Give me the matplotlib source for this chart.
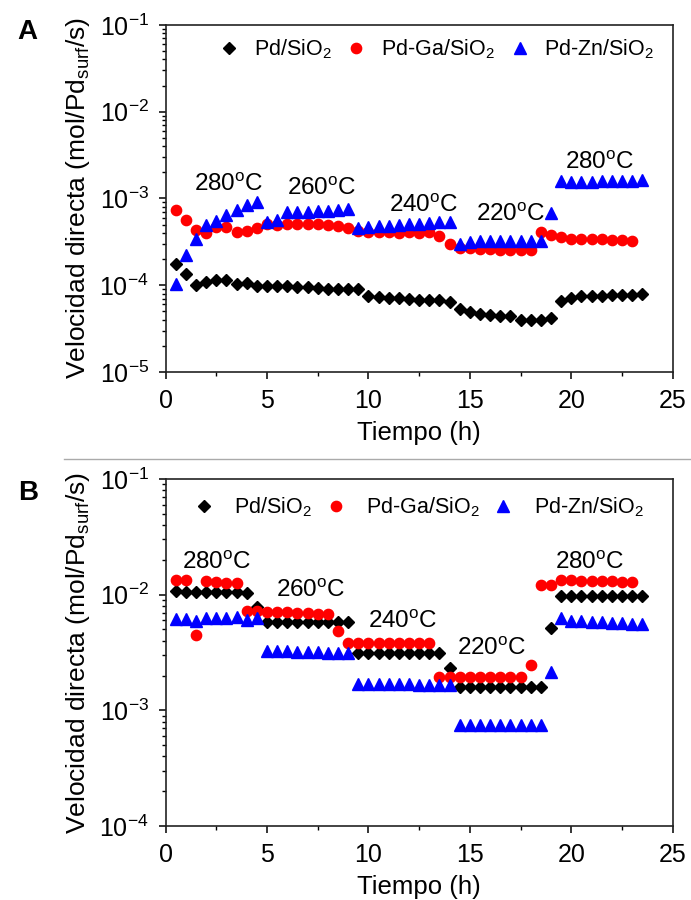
import matplotlib
matplotlib.use("Agg")
import matplotlib.pyplot as plt
from matplotlib.lines import Line2D
from matplotlib.ticker import LogLocator, MultipleLocator, NullFormatter

plt.rcParams['font.family'] = ['Liberation Sans', 'DejaVu Sans']
plt.rcParams['mathtext.fontset'] = 'custom'
plt.rcParams['mathtext.rm'] = 'Liberation Sans'
plt.rcParams['mathtext.it'] = 'Liberation Sans:italic'
plt.rcParams['mathtext.bf'] = 'Liberation Sans:bold'
plt.rcParams['mathtext.default'] = 'regular'
plt.rcParams['axes.unicode_minus'] = False

# ---- Panel A data (time in h, rate in mol/Pd_surf/s) ----
t_a_pd = [0.5 + 0.5 * i for i in range(47)]
v_a_pd = [1.74e-4, 1.36e-4, 1.0e-4, 1.09e-4, 1.14e-4, 1.14e-4, 1.02e-4, 1.07e-4,
          9.8e-5, 9.8e-5, 9.8e-5, 9.8e-5, 9.5e-5, 9.5e-5, 9.3e-5, 9.1e-5, 9.1e-5,
          9.1e-5, 9.1e-5,
          7.6e-5, 7.3e-5, 7.1e-5, 7.1e-5, 7.0e-5, 6.7e-5, 6.7e-5, 6.7e-5, 6.4e-5,
          5.3e-5, 4.95e-5, 4.67e-5, 4.54e-5, 4.46e-5, 4.46e-5, 4.0e-5, 4.0e-5,
          4.0e-5, 4.15e-5,
          6.5e-5, 7.1e-5, 7.5e-5, 7.5e-5, 7.5e-5, 7.76e-5, 7.76e-5, 7.76e-5, 7.97e-5]

t_a_ga = [0.5 + 0.5 * i for i in range(46)]
v_a_ga = [7.37e-4, 5.59e-4, 4.38e-4, 4.01e-4, 4.67e-4, 4.67e-4, 4.12e-4, 4.27e-4,
          4.51e-4, 5.11e-4, 4.93e-4, 5.01e-4, 5.11e-4, 5.11e-4, 5.01e-4, 4.93e-4,
          4.80e-4, 4.51e-4, 4.20e-4, 4.12e-4, 4.12e-4, 4.12e-4, 4.01e-4, 4.12e-4,
          4.01e-4, 4.12e-4, 3.66e-4, 2.98e-4, 2.72e-4, 2.72e-4, 2.63e-4, 2.63e-4,
          2.56e-4, 2.56e-4, 2.56e-4, 2.56e-4, 4.12e-4, 3.77e-4, 3.57e-4, 3.44e-4,
          3.44e-4, 3.44e-4, 3.44e-4, 3.35e-4, 3.35e-4, 3.26e-4]

t_a_zn = [0.5 + 0.5 * i for i in range(47)]
v_a_zn = [1.02e-4, 2.24e-4, 3.44e-4, 4.93e-4, 5.49e-4, 6.45e-4, 7.31e-4, 8.43e-4,
          9.0e-4, 5.39e-4, 5.64e-4, 7.06e-4, 7.06e-4, 7.06e-4, 7.18e-4, 7.18e-4,
          7.31e-4, 7.51e-4,
          4.51e-4, 4.67e-4, 4.80e-4, 4.80e-4, 4.89e-4, 5.01e-4, 5.11e-4, 5.25e-4,
          5.35e-4, 5.39e-4,
          2.98e-4, 3.14e-4, 3.21e-4, 3.21e-4, 3.21e-4, 3.21e-4, 3.21e-4, 3.21e-4,
          3.26e-4, 6.87e-4,
          1.58e-3, 1.54e-3, 1.54e-3, 1.54e-3, 1.58e-3, 1.58e-3, 1.61e-3, 1.61e-3, 1.64e-3]

# ---- Panel B data ----
t_b_pd = [0.5 + 0.5 * i for i in range(47)]
v_b_pd = [1.08e-2, 1.06e-2, 1.05e-2, 1.05e-2, 1.05e-2, 1.05e-2, 1.05e-2, 1.03e-2,
          7.84e-3,
          5.79e-3, 5.79e-3, 5.79e-3, 5.79e-3, 5.79e-3, 5.79e-3, 5.79e-3, 5.79e-3, 5.79e-3,
          3.16e-3, 3.16e-3, 3.16e-3, 3.16e-3, 3.16e-3, 3.16e-3, 3.16e-3, 3.16e-3, 3.16e-3,
          2.34e-3,
          1.58e-3, 1.58e-3, 1.58e-3, 1.58e-3, 1.58e-3, 1.58e-3, 1.58e-3, 1.58e-3, 1.58e-3,
          5.13e-3,
          9.8e-3, 9.8e-3, 9.8e-3, 9.8e-3, 9.8e-3, 9.8e-3, 9.8e-3, 9.8e-3, 9.8e-3]

t_b_ga = [0.5 + 0.5 * i for i in range(46)]
v_b_ga = [1.34e-2, 1.34e-2, 4.49e-3, 1.30e-2, 1.28e-2, 1.26e-2, 1.26e-2,
          7.18e-3, 7.18e-3, 7.10e-3, 7.10e-3, 7.10e-3, 6.98e-3, 6.98e-3, 6.86e-3, 6.86e-3,
          4.81e-3,
          3.79e-3, 3.79e-3, 3.79e-3, 3.79e-3, 3.79e-3, 3.79e-3, 3.79e-3, 3.79e-3, 3.79e-3,
          1.96e-3, 1.96e-3, 1.96e-3, 1.96e-3, 1.96e-3, 1.96e-3, 1.96e-3, 1.96e-3, 1.96e-3,
          2.45e-3, 1.21e-2, 1.21e-2,
          1.34e-2, 1.34e-2, 1.32e-2, 1.32e-2, 1.30e-2, 1.30e-2, 1.28e-2, 1.28e-2]

t_b_zn = [0.5 + 0.5 * i for i in range(47)]
v_b_zn = [6.2e-3, 6.2e-3, 5.87e-3, 6.28e-3, 6.28e-3, 6.28e-3, 6.41e-3, 6.0e-3, 6.28e-3,
          3.27e-3, 3.27e-3, 3.27e-3, 3.22e-3, 3.22e-3, 3.22e-3, 3.16e-3, 3.16e-3, 3.16e-3,
          1.69e-3, 1.69e-3, 1.69e-3, 1.69e-3, 1.69e-3, 1.69e-3, 1.67e-3, 1.67e-3, 1.65e-3,
          1.65e-3,
          7.54e-4, 7.54e-4, 7.54e-4, 7.54e-4, 7.54e-4, 7.54e-4, 7.54e-4, 7.54e-4, 7.54e-4,
          2.14e-3,
          6.28e-3, 5.87e-3, 5.87e-3, 5.8e-3, 5.8e-3, 5.7e-3, 5.7e-3, 5.6e-3, 5.6e-3]

# temperature labels: (time, rate)
temps_a = [(3.1, 1.45e-3), (7.7, 1.3e-3), (12.7, 8.3e-4), (17.0, 6.4e-4), (21.4, 2.55e-3)]
temps_b = [(2.5, 1.9e-2), (7.15, 1.07e-2), (11.7, 5.85e-3), (16.1, 3.4e-3), (20.9, 1.9e-2)]
temp_text = ['280', '260', '240', '220', '280']

series_labels = ['Pd/SiO$_2$', 'Pd-Ga/SiO$_2$', 'Pd-Zn/SiO$_2$']
ylab = 'Velocidad directa (mol/Pd$_{surf}$/s)'

fig = plt.figure(figsize=(6.91, 9.0), dpi=100)
ax_a = fig.add_axes([0.2397, 0.5867, 0.7337, 0.3856])
ax_b = fig.add_axes([0.2397, 0.0822, 0.7337, 0.3856])


def style_axis(ax, ymin):
    ax.set_yscale('log')
    ax.set_xlim(0, 25)
    ax.set_ylim(ymin, 1e-1)
    ax.xaxis.set_major_locator(MultipleLocator(5))
    ax.xaxis.set_minor_locator(MultipleLocator(2.5))
    ax.yaxis.set_major_locator(LogLocator(base=10, numticks=10))
    ax.yaxis.set_minor_locator(LogLocator(base=10, subs=range(2, 10), numticks=20))
    ax.yaxis.set_minor_formatter(NullFormatter())
    ax.tick_params(which='major', direction='out', length=5, width=1.1, labelsize=18, pad=7)
    ax.tick_params(which='minor', direction='out', length=3, width=1.0)
    ax.tick_params(top=False, right=False)
    for s in ax.spines.values():
        s.set_linewidth(1.2)
        s.set_color('#222222')
    ax.set_xlabel('Tiempo (h)', fontsize=18.5, labelpad=6)
    ax.set_ylabel(ylab, fontsize=19, labelpad=5)


def draw_panel(ax, tp, vp, tg, vg, tz, vz):
    ax.plot(tp, vp, 'D', color='black', ms=6.3, ls='none', label=series_labels[0])
    ax.plot(tg, vg, 'o', color='red', ms=7.4, ls='none', label=series_labels[1])
    ax.plot(tz, vz, '^', color='blue', ms=8.2, ls='none', label=series_labels[2])


draw_panel(ax_a, t_a_pd, v_a_pd, t_a_ga, v_a_ga, t_a_zn, v_a_zn)
style_axis(ax_a, 1e-5)
for (x, y), s in zip(temps_a, temp_text):
    ax_a.text(x, y, s + '$^{o}$C', fontsize=17.5, ha='center', va='center')
ax_a.legend(loc='upper right', bbox_to_anchor=(0.99, 1.0), ncol=3, frameon=False,
            fontsize=15.5, handlelength=0.8, handletextpad=0.75, columnspacing=0.75,
            borderaxespad=0.2)

draw_panel(ax_b, t_b_pd, v_b_pd, t_b_ga, v_b_ga, t_b_zn, v_b_zn)
style_axis(ax_b, 1e-4)
for (x, y), s in zip(temps_b, temp_text):
    ax_b.text(x, y, s + '$^{o}$C', fontsize=17.5, ha='center', va='center')
ax_b.legend(loc='upper right', bbox_to_anchor=(0.975, 1.0), ncol=3, frameon=False,
            fontsize=15.5, handlelength=0.8, handletextpad=1.0, columnspacing=0.7,
            borderaxespad=0.35)

fig.text(0.04, 0.964, 'A', fontsize=20, fontweight='bold', ha='center', va='center')
fig.text(0.04, 0.452, 'B', fontsize=20, fontweight='bold', ha='center', va='center')
fig.add_artist(Line2D([64 / 691, 1.0], [1 - 459 / 900, 1 - 459 / 900],
                      color='#aaaaaa', lw=1.0))

fig.savefig('out.png', dpi=100)
